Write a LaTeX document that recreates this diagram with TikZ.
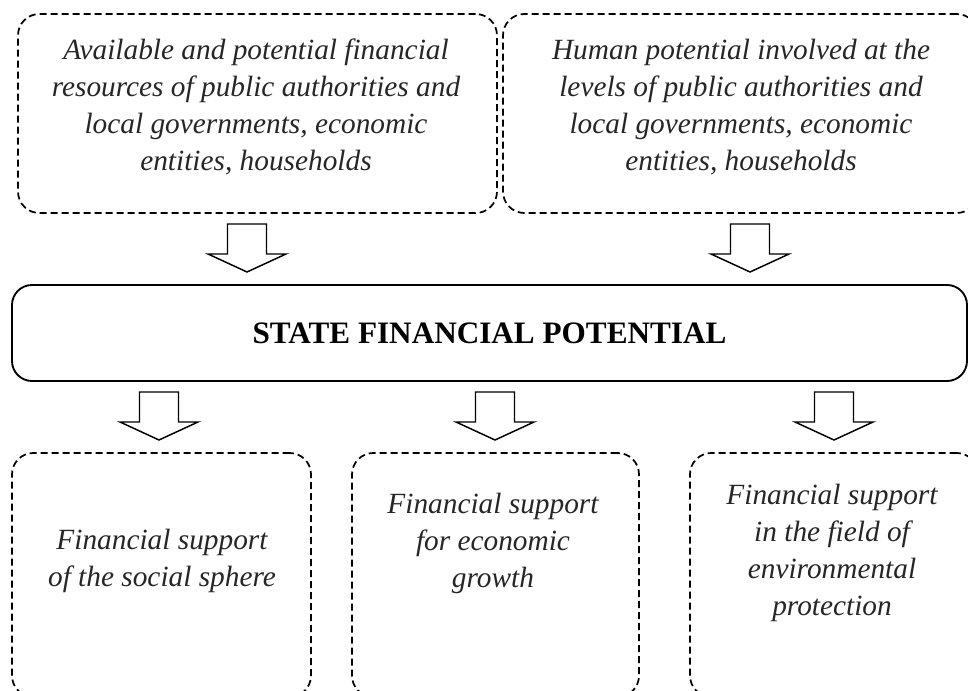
\documentclass[tikz,border=0pt]{standalone}
\usepackage{fontspec}
\setmainfont{Liberation Serif}
\begin{document}
\begin{tikzpicture}[x=0.75pt, y=-0.75pt]

\tikzstyle{dbox} = [rectangle, draw, dash pattern=on 5.25pt off 3pt, line width=1.3pt, rounded corners=16pt, inner sep=0pt]
\tikzstyle{sbox} = [rectangle, draw, line width=1.4pt, rounded corners=15pt, inner sep=0pt, font=\fontsize{23.4}{26}\selectfont\bfseries]
\tikzstyle{txt} = [align=center, inner sep=0pt, text=black!85, font=\fontsize{22}{27.75}\selectfont\itshape]
\tikzset{downarrow/.pic={\draw[line width=1.1pt, fill=white] (-19.5,0) -- (-19.5,30) -- (-39,30) -- (0,48) -- (39,30) -- (19.5,30) -- (19.5,0) -- cycle;}}

\useasboundingbox (0,0) rectangle (968,691);
\clip (0,0) rectangle (968,691);

\node[dbox, minimum width=359.25pt, minimum height=149.25pt] (res) at (257.5,113.5) {};
\node[dbox, minimum width=356.25pt, minimum height=149.25pt] (hum) at (740.5,113.5) {};
\node[txt] (rest) at (256,107) {Available and potential financial\\resources of public authorities and\\local governments, economic\\entities, households};
\node[txt] (humt) at (741,107) {Human potential involved at the\\levels of public authorities and\\local governments, economic\\entities, households};

\node[sbox, minimum width=716.25pt, minimum height=72pt] (sfp) at (489.5,333) {STATE FINANCIAL POTENTIAL};

\node[dbox, minimum width=224.25pt, minimum height=183pt] (soc) at (161.5,575) {};
\node[dbox, minimum width=215.25pt, minimum height=183pt] (eco) at (495.5,575) {};
\node[dbox, minimum width=216pt, minimum height=183pt] (env) at (834,575) {};
\node[txt] (soct) at (162,561) {Financial support\\of the social sphere};
\node[txt] (ecot) at (493,543) {Financial support\\for economic\\growth};
\node[txt] (envt) at (832,553) {Financial support\\in the field of\\environmental\\protection};

\pic at (247,224) {downarrow};
\pic at (750,224) {downarrow};
\pic at (159,392) {downarrow};
\pic at (495,392) {downarrow};
\pic at (834,392) {downarrow};
\end{tikzpicture}
\end{document}
